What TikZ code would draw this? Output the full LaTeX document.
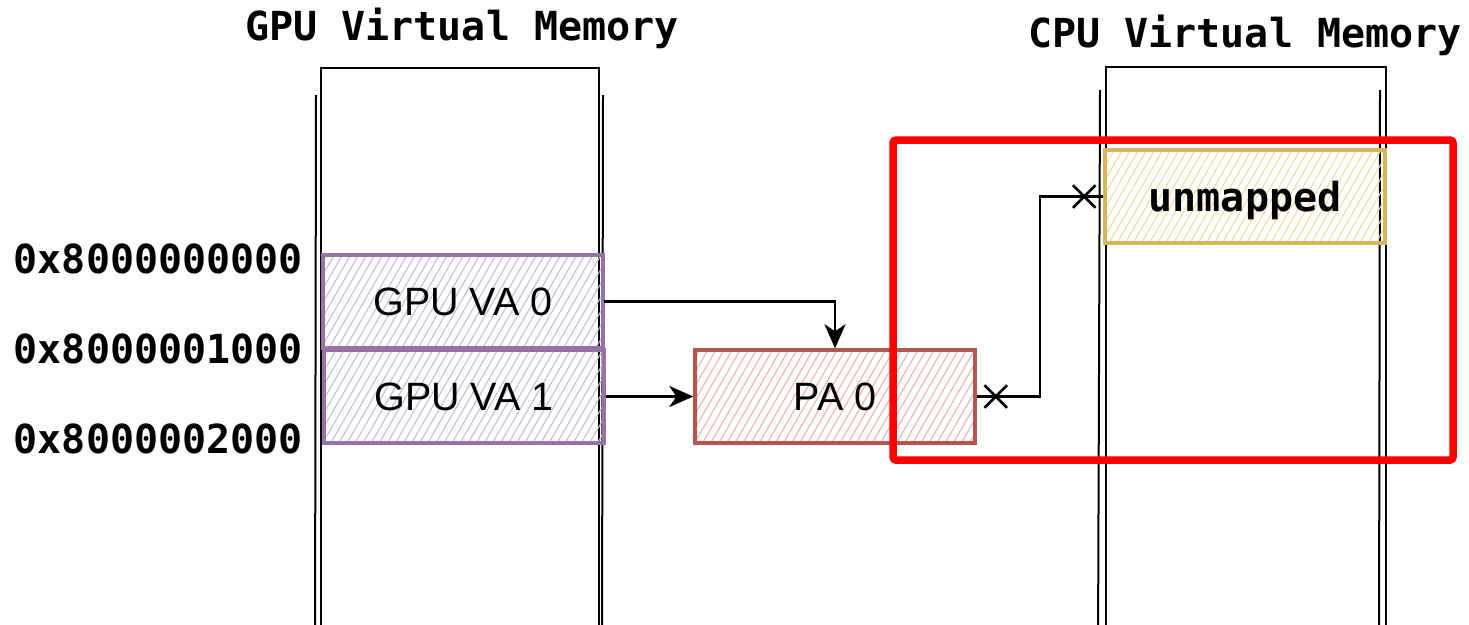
\documentclass[tikz,border=0pt]{standalone}
\usepackage{fontspec}
\setmainfont{Liberation Sans}
\setmonofont{DejaVu Sans Mono}
\usetikzlibrary{arrows.meta,patterns.meta,shapes.misc,calc}
\definecolor{purpstroke}{HTML}{9673A6}
\definecolor{purphatch}{HTML}{CBB8D8}
\definecolor{redstroke}{HTML}{B85450}
\definecolor{redhatch}{HTML}{EDB0AE}
\definecolor{yelstroke}{HTML}{D6B656}
\definecolor{yelhatch}{HTML}{F0DD9E}
\tikzset{
  title/.style={font=\ttfamily\bfseries\fontsize{40}{44}\selectfont, inner sep=0pt},
  addr/.style={font=\ttfamily\bfseries\fontsize{40}{44}\selectfont, inner sep=0pt, anchor=base east},
  column/.style={draw=black, line width=2.6pt},
  sketchline/.style={draw=black, line width=2pt},
  membox/.style={minimum width=280pt, minimum height=93pt, inner sep=0pt, line width=3.4pt},
  vabox/.style={membox, draw=purpstroke, pattern={Lines[angle=60,distance=7pt,line width=1.1pt]}, pattern color=purphatch, font=\fontsize{39.5}{44}\selectfont},
  pabox/.style={membox, draw=redstroke, pattern={Lines[angle=60,distance=7pt,line width=1.1pt]}, pattern color=redhatch, font=\fontsize{39.5}{44}\selectfont},
  unbox/.style={membox, draw=yelstroke, pattern={Lines[angle=60,distance=7pt,line width=1.1pt]}, pattern color=yelhatch, font=\ttfamily\bfseries\fontsize{40}{44}\selectfont, text depth=0pt},
  conn/.style={draw=black, line width=2.6pt},
  arr/.style={conn, -{Stealth[length=24pt,width=21pt,inset=7pt]}},
  crossmark/.style={cross out, draw=black, line width=2.6pt, minimum size=20pt, inner sep=0pt},
  highlight/.style={draw=red, line width=7.5pt, rounded corners=3pt}
}
\begin{document}
\begin{tikzpicture}[x=1pt,y=-1pt]
\useasboundingbox (0,0) rectangle (1469,624);
\clip (0,0) rectangle (1469,624);
\fill[white] (0,0) rectangle (1469,624);

% titles
\node[title, anchor=base] (gputitle) at (462,40) {GPU Virtual Memory};
\node[title, anchor=base] (cputitle) at (1245,47) {CPU Virtual Memory};

% columns
\draw[column] (321,650) -- (321,68) -- (599,68) -- (599,650);
\draw[sketchline] (316,95) -- (315,650);
\draw[sketchline] (603,95) -- (602,650);
\draw[column] (1106,650) -- (1106,67) -- (1386,67) -- (1386,650);
\draw[sketchline] (1100,90) -- (1098,650);
\draw[sketchline] (1380,90) -- (1379,650);

% address labels
\node[addr] (a0) at (303,273) {0x8000000000};
\node[addr] (a1) at (303,363) {0x8000001000};
\node[addr] (a2) at (303,453) {0x8000002000};

% memory boxes
\node[vabox] (va0) at (463,301.5) {GPU VA 0};
\node[vabox] (va1) at (464,396.5) {GPU VA 1};
\node[pabox] (pa) at (835,396.5) {PA 0};
\node[unbox] (unm) at (1245,196.5) {unmapped};

% connectors
\draw[arr] (va0.east) -| (pa.north);
\draw[arr] (va1.east) -- (pa.west);
\coordinate (turn) at (1040,300);
\draw[conn] (pa.east) -| (turn) |- (unm.west);
\node[crossmark] (x1) at ($(pa.east)+(19,0)$) {};
\node[crossmark] (x2) at ($(unm.west)+(-19,0)$) {};

% highlight
\draw[highlight] (893,140) rectangle (1453,460);
\end{tikzpicture}
\end{document}
